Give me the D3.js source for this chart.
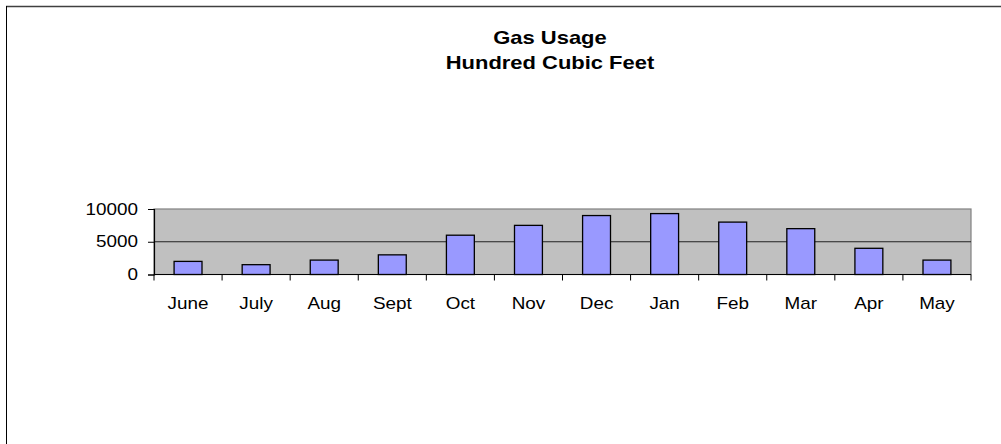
<!DOCTYPE html>
<html>
<head>
<meta charset="utf-8">
<script src="https://cdn.jsdelivr.net/npm/d3@7"></script>
<style>
  body { margin: 0; background: #fff; }
  text { font-family: "Liberation Sans", Arial, sans-serif; }
</style>
</head>
<body>
<div id="chart"></div>
<script>
// données
const months = ["June", "July", "Aug", "Sept", "Oct", "Nov", "Dec", "Jan", "Feb", "Mar", "Apr", "May"];
const usage = [2000, 1500, 2200, 3000, 6000, 7500, 9000, 9300, 8000, 7000, 4000, 2200];
const yTicks = [0, 5000, 10000];
const titleLines = ["Gas Usage", "Hundred Cubic Feet"];

const W = 1001, H = 444;
const plot = {left: 154, top: 209, right: 971, bottom: 274.5};
const stretch = 1.18; // le texte d'origine est un peu étiré en largeur

const svg = d3.select("#chart").append("svg")
  .attr("width", W)
  .attr("height", H);

// cadre du graphique (seulement haut et gauche visibles)
svg.append("line")
  .attr("x1", 6).attr("y1", 6.5).attr("x2", W).attr("y2", 6.5)
  .attr("stroke", "#404040").attr("stroke-width", 1.5);
svg.append("line")
  .attr("x1", 6.5).attr("y1", 6).attr("x2", 6.5).attr("y2", H)
  .attr("stroke", "#000").attr("stroke-width", 1);

const x = d3.scaleBand()
  .domain(months)
  .range([plot.left, plot.right])
  .paddingInner(0.59)
  .paddingOuter(0.295);

const xOuter = d3.scaleBand()
  .domain(months)
  .range([plot.left, plot.right]);

const y = d3.scaleLinear()
  .domain([0, 10000])
  .range([plot.bottom, plot.top]);

// fond gris de la zone de traçage
svg.append("rect")
  .attr("x", plot.left)
  .attr("y", plot.top)
  .attr("width", plot.right - plot.left)
  .attr("height", plot.bottom - plot.top)
  .attr("fill", "#C0C0C0")
  .attr("stroke", "#808080")
  .attr("stroke-width", 1.2);

// quadrillage
svg.selectAll(".grid")
  .data(yTicks.filter(d => d > 0 && d < 10000))
  .enter().append("line")
  .attr("x1", plot.left).attr("x2", plot.right)
  .attr("y1", d => y(d)).attr("y2", d => y(d))
  .attr("stroke", "#222").attr("stroke-width", 1);

// barres
svg.selectAll(".bar")
  .data(months)
  .enter().append("rect")
  .attr("x", d => x(d))
  .attr("y", (d, i) => y(usage[i]))
  .attr("width", x.bandwidth())
  .attr("height", (d, i) => y(0) - y(usage[i]))
  .attr("fill", "#9999FF")
  .attr("stroke", "#000")
  .attr("stroke-width", 1.3);

// axe Y
const yAxis = svg.append("g")
  .attr("transform", "translate(" + plot.left + ",0)")
  .call(d3.axisLeft(y).tickValues(yTicks).tickSize(6).tickPadding(10).tickFormat(d3.format("d")));
yAxis.select(".domain").attr("stroke", "#000").attr("stroke-width", 1.2);
yAxis.selectAll(".tick line").attr("stroke", "#000");
yAxis.selectAll(".tick text")
  .attr("font-size", "16px")
  .attr("fill", "#000")
  .attr("transform", function() {
    const tx = +d3.select(this).attr("x");
    return "translate(" + tx + ",0) scale(" + stretch + ",1) translate(" + (-tx) + ",0)";
  });

// axe X : traits aux limites des catégories
const boundaries = months.map(m => xOuter(m)).concat([plot.right]);
svg.append("line")
  .attr("x1", plot.left).attr("x2", plot.right)
  .attr("y1", plot.bottom).attr("y2", plot.bottom)
  .attr("stroke", "#000").attr("stroke-width", 1.2);
svg.selectAll(".xtick")
  .data(boundaries)
  .enter().append("line")
  .attr("x1", d => d).attr("x2", d => d)
  .attr("y1", plot.bottom).attr("y2", plot.bottom + 6)
  .attr("stroke", "#000");

svg.selectAll(".xlabel")
  .data(months)
  .enter().append("text")
  .attr("text-anchor", "middle")
  .attr("font-size", "16px")
  .attr("transform", d => {
    const cx = xOuter(d) + xOuter.bandwidth() / 2;
    return "translate(" + cx + "," + (plot.bottom + 34.5) + ") scale(" + stretch + ",1)";
  })
  .text(d => d);

// titre
svg.selectAll(".title")
  .data(titleLines)
  .enter().append("text")
  .attr("text-anchor", "middle")
  .attr("font-size", "18px")
  .attr("font-weight", "bold")
  .attr("transform", (d, i) => "translate(550," + (43.5 + i * 25) + ") scale(1.22,1)")
  .text(d => d);
</script>
</body>
</html>
